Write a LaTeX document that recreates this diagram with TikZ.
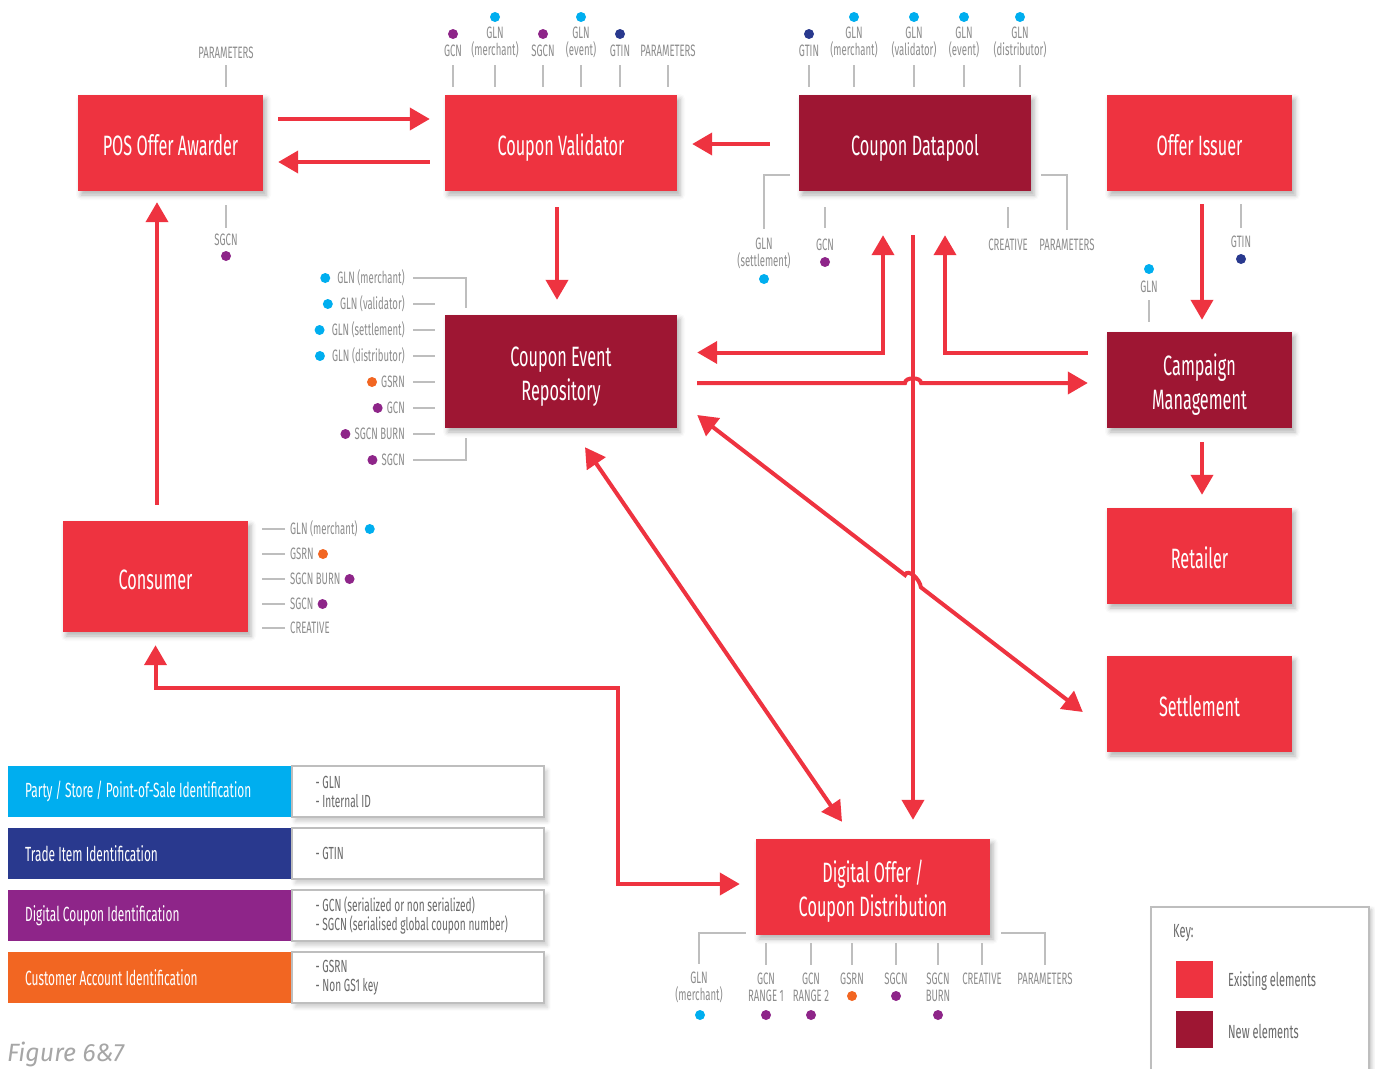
\documentclass[tikz,border=0pt]{standalone}
\usepackage{fontspec}
\setmainfont{Fira Sans}[FakeStretch=0.58]
\newfontfamily\figfont{Fira Sans}
\usetikzlibrary{arrows.meta,calc,shadows.blur}

\definecolor{oldred}{RGB}{238,51,64}
\definecolor{newred}{RGB}{158,22,51}
\definecolor{glncyan}{RGB}{0,174,239}
\definecolor{gtinblue}{RGB}{41,57,142}
\definecolor{gcnpurple}{RGB}{142,37,137}
\definecolor{gsrnorange}{RGB}{242,102,34}
\definecolor{taggray}{RGB}{140,140,140}
\definecolor{infogray}{RGB}{105,105,105}
\definecolor{linegray}{RGB}{190,190,190}

\newcommand{\boxfont}{\fontsize{28}{34}\selectfont}
\newcommand{\tagfont}{\fontsize{16.5}{17}\selectfont}
\newcommand{\legfont}{\fontsize{20.5}{22}\selectfont}
\newcommand{\infofont}{\fontsize{17.5}{19}\selectfont}
\newcommand{\keyfont}{\fontsize{19}{22}\selectfont}
\newcommand{\twoline}[2]{\begin{tabular}[b]{@{}c@{}}#1\\#2\end{tabular}}

\begin{document}
\begin{tikzpicture}[x=1pt,y=-1pt]

%
% Styles
%
\tikzstyle{existing} = [rectangle,fill=oldred,text=white,inner sep=0pt,align=center,font=\boxfont,
                        text height=25pt,text depth=0pt,
                        blur shadow={shadow xshift=3pt,shadow yshift=-4pt,shadow blur radius=5pt,shadow opacity=30}]
\tikzstyle{brandnew} = [existing,fill=newred]
\tikzstyle{tall}     = [text height=58pt]
\tikzstyle{tag}      = [text=taggray,inner sep=0pt,align=center,font=\tagfont]
\tikzstyle{tagline}  = [draw=linegray,line width=2pt]
\tikzstyle{dot}      = [circle,inner sep=0pt,minimum size=10pt]
\tikzstyle{flow}     = [-{Triangle[width=22pt,length=20pt]},draw=oldred,line width=4pt]
\tikzstyle{twoway}   = [{Triangle[width=22pt,length=20pt]}-{Triangle[width=22pt,length=20pt]},draw=oldred,line width=4pt]
\tikzstyle{legend}   = [anchor=north west,text=white,font=\legfont,inner xsep=17pt,text width=249pt,align=flush left,minimum height=51pt]
\tikzstyle{info}     = [anchor=west,fill=white,draw=linegray,line width=1.5pt,text=infogray,font=\infofont,inner xsep=23.5pt,
                        text width=205pt,align=flush left,minimum height=51pt,
                        blur shadow={shadow xshift=3pt,shadow yshift=-4pt,shadow blur radius=4pt,shadow opacity=20}]

\useasboundingbox (0,0) rectangle (1375,1068);

% boxes
\node[existing,minimum width=185pt,minimum height=96pt]       (pos) at (170.5,143)  {POS Offer Awarder};
\node[existing,minimum width=232pt,minimum height=96pt]       (val) at (561,143)    {Coupon Validator};
\node[brandnew,minimum width=232pt,minimum height=96pt]       (dp)  at (915,143)    {Coupon Datapool};
\node[existing,minimum width=185pt,minimum height=96pt]       (iss) at (1199.5,143) {Offer Issuer};
\node[brandnew,tall,minimum width=232pt,minimum height=113pt] (cer) at (561,371.5)  {\twoline{Coupon Event}{Repository}};
\node[brandnew,tall,minimum width=185pt,minimum height=96pt]  (cm)  at (1199.5,380) {\twoline{Campaign}{Management}};
\node[existing,minimum width=185pt,minimum height=96pt]       (ret) at (1199.5,556) {Retailer};
\node[existing,minimum width=185pt,minimum height=96pt]       (set) at (1199.5,704) {Settlement};
\node[existing,minimum width=185pt,minimum height=111pt]      (con) at (155.5,576.5){Consumer};
\node[existing,tall,minimum width=234pt,minimum height=96pt]  (dod) at (873,887)    {\twoline{Digital Offer /}{Coupon Distribution}};

% flows
\draw[flow]   ($(pos.east)+(15,-24)$) -- ($(val.west)+(-15,-24)$);
\draw[flow]   ($(val.west)+(-15,19)$) -- ($(pos.east)+(15,19)$);
\draw[flow]   ($(dp.west)+(-29,1)$)   -- ($(val.east)+(15,1)$);
\draw[flow]   ($(val.south)+(-4,16)$) -- ($(cer.north)+(-4,-15)$);
\draw[twoway] ($(cer.east)+(20,-19)$) -| ($(dp.south)+(-32,44)$);
\draw[flow]   ($(cm.west)+(-19,-27)$) -| ($(dp.south)+(30,44)$);
\draw[flow]   ($(dp.south)+(-2,44)$)  -- ($(dod.north)+(40,-19)$);
\draw[flow]   ($(iss.south)+(2.5,13)$) -- ($(cm.north)+(2.5,-12)$);
\draw[flow]   ($(cm.south)+(2.5,14)$) -- ($(ret.north)+(2.5,-13)$);
\draw[twoway] ($(cer.south)+(24,19)$) -- ($(dod.north)+(-31,-17)$);
\draw[flow]   ($(con.north)+(1.5,-16)$) -- ($(pos.south)+(-13.5,11)$);
\draw[twoway] ($(con.south)+(0,13)$) -- ++(0,43) -| ($(dod.west)+(-138,-3)$) -- ($(dod.west)+(-16,-3)$);

% hops over the datapool line
\coordinate (hs) at ($(cer.east)+(20,11.5)$);
\coordinate (he) at ($(cm.west)+(-19,3)$);
\draw[flow] (hs) -- ($(hs)!0.532!(he)$) to[out=90,in=90] ($(hs)!0.573!(he)$) -- (he);
\coordinate (ds) at ($(cer.east)+(20,43.5)$);
\coordinate (de) at ($(set.west)+(-24,8)$);
\draw[twoway] (ds) -- ($(ds)!0.539!(de)$) to[out=70,in=95] ($(ds)!0.58!(de)$) -- (de);

% POS tags
\node[tag] (ppar)  at (226,53)  {PARAMETERS};
\node[tag] (psgcn) at (226,240) {SGCN};
\node[dot,fill=gcnpurple] (psgcnd) at (226,256) {};
\draw[tagline] (ppar |- pos.north) ++(0,-8) -- ++(0,-22);
\draw[tagline] (psgcn |- pos.south) ++(0,14) -- ++(0,23);

% Validator tags
\node[tag] (vgcn)  at (453,51)   {GCN};
\node[tag] (vglnm) at (495,42.5) {GLN\\(merchant)};
\node[tag] (vsgcn) at (543,51)   {SGCN};
\node[tag] (vglne) at (581,42.5) {GLN\\(event)};
\node[tag] (vgtin) at (620,51)   {GTIN};
\node[tag] (vpar)  at (668,51)   {PARAMETERS};
\node[dot,fill=gcnpurple] (vgcnd)  at (453,34) {};
\node[dot,fill=glncyan]   (vglnmd) at (495,17) {};
\node[dot,fill=gcnpurple] (vsgcnd) at (543,34) {};
\node[dot,fill=glncyan]   (vglned) at (581,17) {};
\node[dot,fill=gtinblue]  (vgtind) at (620,34) {};
\draw[tagline] (vgcn |- val.north)  ++(0,-8) -- ++(0,-22);
\draw[tagline] (vglnm |- val.north) ++(0,-8) -- ++(0,-22);
\draw[tagline] (vsgcn |- val.north) ++(0,-8) -- ++(0,-22);
\draw[tagline] (vglne |- val.north) ++(0,-8) -- ++(0,-22);
\draw[tagline] (vgtin |- val.north) ++(0,-8) -- ++(0,-22);
\draw[tagline] (vpar |- val.north)  ++(0,-8) -- ++(0,-22);

% Datapool tags
\node[tag] (dgtin) at (809,51)    {GTIN};
\node[tag] (dglnm) at (854,42.5)  {GLN\\(merchant)};
\node[tag] (dglnv) at (914,42.5)  {GLN\\(validator)};
\node[tag] (dglne) at (964,42.5)  {GLN\\(event)};
\node[tag] (dglnd) at (1020,42.5) {GLN\\(distributor)};
\node[dot,fill=gtinblue] (dgtind) at (809,34)  {};
\node[dot,fill=glncyan]  (dglnmd) at (854,17)  {};
\node[dot,fill=glncyan]  (dglnvd) at (914,17)  {};
\node[dot,fill=glncyan]  (dglned) at (964,17)  {};
\node[dot,fill=glncyan]  (dglndd) at (1020,17) {};
\draw[tagline] (dgtin |- dp.north) ++(0,-8) -- ++(0,-22);
\draw[tagline] (dglnm |- dp.north) ++(0,-8) -- ++(0,-22);
\draw[tagline] (dglnv |- dp.north) ++(0,-8) -- ++(0,-22);
\draw[tagline] (dglne |- dp.north) ++(0,-8) -- ++(0,-22);
\draw[tagline] (dglnd |- dp.north) ++(0,-8) -- ++(0,-22);

\node[tag] (dglns) at (764,253)  {GLN\\(settlement)};
\node[tag] (dgcn)  at (825,245)  {GCN};
\node[tag] (dcre)  at (1008,245) {CREATIVE};
\node[tag] (dpar)  at (1067,245) {PARAMETERS};
\node[dot,fill=glncyan]   (dglnsd) at (764,279) {};
\node[dot,fill=gcnpurple] (dgcnd)  at (825,262) {};
\draw[tagline] ($(dp.west)+(-9,32)$) -| ($(dglns.north)+(0,-8)$);
\draw[tagline] (dgcn |- dp.south) ++(0,16) -- ++(0,21);
\draw[tagline] (dcre |- dp.south) ++(0,16) -- ++(0,21);
\draw[tagline] ($(dp.east)+(10,32)$) -| ($(dpar.north)+(0,-9)$);

% Offer Issuer and Campaign tags
\node[tag] (igtin) at (1241,242) {GTIN};
\node[dot,fill=gtinblue] (igtind) at (1241,259) {};
\draw[tagline] (igtin |- iss.south) ++(0,13) -- ++(0,24);
\node[tag] (cgln) at (1149,287) {GLN};
\node[dot,fill=glncyan] (cglnd) at (1149,269) {};
\draw[tagline] (cgln |- cm.north) ++(0,-10) -- ++(0,-22);

% Event Repository tags
\node[tag,anchor=east] (r1) at (405,278) {GLN (merchant)};
\node[tag,anchor=east] (r2) at (405,304) {GLN (validator)};
\node[tag,anchor=east] (r3) at (405,330) {GLN (settlement)};
\node[tag,anchor=east] (r4) at (405,356) {GLN (distributor)};
\node[tag,anchor=east] (r5) at (405,382) {GSRN};
\node[tag,anchor=east] (r6) at (405,408) {GCN};
\node[tag,anchor=east] (r7) at (405,434) {SGCN BURN};
\node[tag,anchor=east] (r8) at (405,460) {SGCN};
\node[dot,fill=glncyan]    (r1d) at ($(r1.west)+(-12,0)$) {};
\node[dot,fill=glncyan]    (r2d) at ($(r2.west)+(-12,0)$) {};
\node[dot,fill=glncyan]    (r3d) at ($(r3.west)+(-12,0)$) {};
\node[dot,fill=glncyan]    (r4d) at ($(r4.west)+(-12,0)$) {};
\node[dot,fill=gsrnorange] (r5d) at ($(r5.west)+(-9,0)$)  {};
\node[dot,fill=gcnpurple]  (r6d) at ($(r6.west)+(-9,0)$)  {};
\node[dot,fill=gcnpurple]  (r7d) at ($(r7.west)+(-9,0)$)  {};
\node[dot,fill=gcnpurple]  (r8d) at ($(r8.west)+(-9,0)$)  {};
\draw[tagline] ($(r1.east)+(8,0)$) -| ($(cer.north west)+(21,-7)$);
\draw[tagline] (r2.east) ++(8,0) -- ++(22,0);
\draw[tagline] (r3.east) ++(8,0) -- ++(22,0);
\draw[tagline] (r4.east) ++(8,0) -- ++(22,0);
\draw[tagline] (r5.east) ++(8,0) -- ++(22,0);
\draw[tagline] (r6.east) ++(8,0) -- ++(22,0);
\draw[tagline] (r7.east) ++(8,0) -- ++(22,0);
\draw[tagline] ($(r8.east)+(8,0)$) -| ($(cer.south west)+(21,10)$);

% Consumer tags
\node[tag,anchor=west] (k1) at (290,529) {GLN (merchant)};
\node[tag,anchor=west] (k2) at (290,554) {GSRN};
\node[tag,anchor=west] (k3) at (290,579) {SGCN BURN};
\node[tag,anchor=west] (k4) at (290,604) {SGCN};
\node[tag,anchor=west] (k5) at (290,628) {CREATIVE};
\node[dot,fill=glncyan]    (k1d) at ($(k1.east)+(12,0)$) {};
\node[dot,fill=gsrnorange] (k2d) at ($(k2.east)+(9,0)$)  {};
\node[dot,fill=gcnpurple]  (k3d) at ($(k3.east)+(9,0)$)  {};
\node[dot,fill=gcnpurple]  (k4d) at ($(k4.east)+(9,0)$)  {};
\draw[tagline] (k1.west) ++(-5,0) -- ++(-23,0);
\draw[tagline] (k2.west) ++(-5,0) -- ++(-23,0);
\draw[tagline] (k3.west) ++(-5,0) -- ++(-23,0);
\draw[tagline] (k4.west) ++(-5,0) -- ++(-23,0);
\draw[tagline] (k5.west) ++(-5,0) -- ++(-23,0);

% Distribution tags
\node[tag] (ogln)  at (699,987.5)  {GLN\\(merchant)};
\node[tag] (og1)   at (766,987.5)  {GCN\\RANGE 1};
\node[tag] (og2)   at (811,987.5)  {GCN\\RANGE 2};
\node[tag] (ogsrn) at (852,979)    {GSRN};
\node[tag] (osgcn) at (896,979)    {SGCN};
\node[tag] (osb)   at (938,987.5)  {SGCN\\BURN};
\node[tag] (ocre)  at (982,979)    {CREATIVE};
\node[tag] (opar)  at (1045,979)   {PARAMETERS};
\node[dot,fill=glncyan]    (oglnd)  at (700,1015) {};
\node[dot,fill=gcnpurple]  (og1d)   at (766,1015) {};
\node[dot,fill=gcnpurple]  (og2d)   at (811,1015) {};
\node[dot,fill=gsrnorange] (ogsrnd) at (852,996)  {};
\node[dot,fill=gcnpurple]  (osgcnd) at (896,996)  {};
\node[dot,fill=gcnpurple]  (osbd)   at (938,1015) {};
\draw[tagline] ($(dod.south west)+(-10,-2)$) -| ($(ogln.north)+(0,-8)$);
\draw[tagline] (og1 |- dod.south)   ++(0,8) -- ++(0,22);
\draw[tagline] (og2 |- dod.south)   ++(0,8) -- ++(0,22);
\draw[tagline] (ogsrn |- dod.south) ++(0,8) -- ++(0,22);
\draw[tagline] (osgcn |- dod.south) ++(0,8) -- ++(0,22);
\draw[tagline] (osb |- dod.south)   ++(0,8) -- ++(0,22);
\draw[tagline] (ocre |- dod.south)  ++(0,8) -- ++(0,22);
\draw[tagline] ($(dod.south east)+(11,-2)$) -| ($(opar.north)+(0,-8)$);

% identification legend
\node[legend,fill=glncyan]    (lparty)  at (8,766) {Party / Store / Point-of-Sale Identification};
\node[legend,fill=gtinblue]   (ltrade)  at (8,828) {Trade Item Identification};
\node[legend,fill=gcnpurple]  (lcoupon) at (8,890) {Digital Coupon Identification};
\node[legend,fill=gsrnorange] (lcust)   at (8,952) {Customer Account Identification};
\node[info] (iparty)  at (lparty.east)  {- GLN\\- Internal ID};
\node[info] (itrade)  at (ltrade.east)  {- GTIN};
\node[info] (icoupon) at (lcoupon.east) {- GCN (serialized or non serialized)\\- SGCN (serialised global coupon number)};
\node[info] (icust)   at (lcust.east)   {- GSRN\\- Non GS1 key};

% key
\node[anchor=north west,fill=white,draw=linegray,line width=1.5pt,minimum width=218pt,minimum height=180pt,
      blur shadow={shadow xshift=3pt,shadow yshift=-3pt,shadow blur radius=4pt,shadow opacity=25}] (key) at (1150,906) {};
\node[anchor=west,text=infogray,font=\keyfont,inner sep=0pt] (keyt) at (1173,933) {Key:};
\node[fill=oldred,minimum size=37pt,inner sep=0pt] (ksq1) at (1194,979)    {};
\node[fill=newred,minimum size=37pt,inner sep=0pt] (ksq2) at (1194,1029.5) {};
\node[anchor=west,text=infogray,font=\keyfont,inner sep=0pt] (kt1) at (1228,981)  {Existing elements};
\node[anchor=west,text=infogray,font=\keyfont,inner sep=0pt] (kt2) at (1228,1031) {New elements};

\node[anchor=base west,inner sep=0pt,text=black!35,font=\figfont\itshape\fontsize{25}{25}\selectfont] (fig) at (7,1061) {Figure 6\&7};

\end{tikzpicture}
\end{document}
